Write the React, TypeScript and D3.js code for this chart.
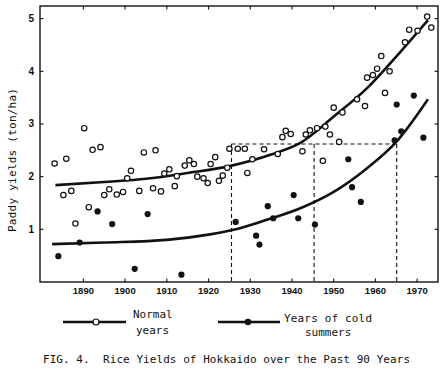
import React from "react";
import * as d3 from "d3";

const normalYears = [1883.1, 1885.9, 1885.2, 1887.1, 1888.1, 1890.2, 1891.3, 1892.2, 1894.1, 1895, 1896.2, 1898, 1899.5, 1900.5, 1901.4, 1903.4, 1904.5, 1906.7, 1907.3, 1908.6, 1909.4, 1910.6, 1912.4, 1911.9, 1914.3, 1915.4, 1916.5, 1917.3, 1918.8, 1919.8, 1920.5, 1921.6, 1922.5, 1923.4, 1924.5, 1925, 1927, 1928.7, 1930.5, 1929.3, 1933.3, 1936.6, 1937.7, 1938.5, 1939.7, 1942.5, 1943.3, 1944.3, 1946, 1947.4, 1948, 1949.1, 1950, 1951.3, 1952.1, 1955.6, 1957.5, 1958, 1959.4, 1960.4, 1961.4, 1962.3, 1963.4, 1967.1, 1968.1, 1970.1, 1972.4, 1973.4];
const normalYields = [2.25, 2.34, 1.65, 1.73, 1.11, 2.92, 1.42, 2.51, 2.56, 1.65, 1.76, 1.66, 1.71, 1.97, 2.11, 1.73, 2.46, 1.78, 2.5, 1.72, 2.06, 2.14, 2.01, 1.82, 2.21, 2.31, 2.24, 2.0, 1.97, 1.88, 2.24, 2.37, 1.92, 2.02, 2.17, 2.53, 2.53, 2.53, 2.33, 2.07, 2.52, 2.43, 2.75, 2.87, 2.81, 2.48, 2.8, 2.88, 2.92, 2.3, 2.95, 2.8, 3.31, 2.66, 3.22, 3.47, 3.34, 3.88, 3.93, 4.05, 4.29, 3.59, 4.0, 4.55, 4.79, 4.77, 5.04, 4.83];

const coldYears = [1884, 1889.1, 1893.4, 1896.9, 1902.3, 1905.4, 1913.5, 1926.5, 1931.4, 1932.2, 1934.2, 1935.5, 1940.4, 1941.5, 1945.5, 1953.5, 1954.4, 1956.5, 1964.6, 1965.1, 1966.2, 1969.2, 1971.5];
const coldYields = [0.49, 0.75, 1.34, 1.1, 0.25, 1.29, 0.14, 1.14, 0.88, 0.71, 1.44, 1.21, 1.65, 1.21, 1.09, 2.33, 1.8, 1.52, 2.69, 3.37, 2.86, 3.54, 2.74];

const normalCurveYears = [1883.3, 1895, 1905, 1915, 1925, 1935, 1942, 1950, 1958, 1966, 1972.6];
const normalCurveYields = [1.84, 1.9, 1.96, 2.07, 2.2, 2.42, 2.64, 3.14, 3.68, 4.37, 4.97];

const coldCurveYears = [1882.5, 1895, 1910, 1920, 1926, 1934, 1942, 1950, 1958, 1965, 1972.6];
const coldCurveYields = [0.72, 0.75, 0.8, 0.9, 0.99, 1.18, 1.4, 1.71, 2.16, 2.66, 3.47];

const guideYears = [1925.5, 1945.3, 1965.1];
const guideLevel = 2.62;

const xTicks = [1890, 1900, 1910, 1920, 1930, 1940, 1950, 1960, 1970];
const yTicks = [1, 2, 3, 4, 5];

const yTitle = "Paddy yields (ton/ha)";
const caption = "FIG. 4.  Rice Yields of Hokkaido over the Past 90 Years";

export default function App() {
  const W = 445, H = 373;
  const left = 40, right = 438, top = 6, bottom = 282;
  const x = d3.scaleLinear().domain([1879.6, 1975]).range([left, right]);
  const y = d3.scaleLinear().domain([0, 5.24]).range([bottom, top]);
  const line = d3
    .line<[number, number]>()
    .x((d) => x(d[0]))
    .y((d) => y(d[1]))
    .curve(d3.curveMonotoneX);
  const upper = line(normalCurveYears.map((t, i) => [t, normalCurveYields[i]]));
  const lower = line(coldCurveYears.map((t, i) => [t, coldCurveYields[i]]));
  const ink = "#111";
  const mono = "'DejaVu Sans Mono', 'Liberation Mono', monospace";
  const sans = "'Liberation Sans', Arial, sans-serif";
  const tl = 3.5;

  return (
    <svg width={W} height={H} style={{ position: "absolute", left: 0, top: 0, background: "#fff" }}>
      <rect x={0} y={0} width={W} height={H} fill="#fff" />
      {/* frame */}
      <rect x={left} y={top} width={right - left} height={bottom - top} fill="none" stroke={ink} strokeWidth={1.4} />
      {/* ticks */}
      {xTicks.map((t) => (
        <g key={"xt" + t}>
          <line x1={x(t)} x2={x(t)} y1={bottom} y2={bottom - tl} stroke={ink} strokeWidth={1.1} />
          <line x1={x(t)} x2={x(t)} y1={top} y2={top + tl} stroke={ink} strokeWidth={1.1} />
          <text x={x(t)} y={294} textAnchor="middle" fontFamily={sans} fontWeight="bold" fontSize={9.5} fill={ink}>
            {t}
          </text>
        </g>
      ))}
      {yTicks.map((v) => (
        <g key={"yt" + v}>
          <line x1={left} x2={left + tl} y1={y(v)} y2={y(v)} stroke={ink} strokeWidth={1.1} />
          <line x1={right} x2={right - tl} y1={y(v)} y2={y(v)} stroke={ink} strokeWidth={1.1} />
          <text x={34} y={y(v) + 3.5} textAnchor="end" fontFamily={sans} fontWeight="bold" fontSize={10} fill={ink}>
            {v}
          </text>
        </g>
      ))}
      {/* y title */}
      <text
        transform={`translate(16,160) rotate(-90)`}
        textAnchor="middle"
        fontFamily={mono}
        fontSize={11}
        fill={ink}
        textLength={144}
        lengthAdjust="spacing"
      >
        {yTitle}
      </text>
      {/* guide dashed lines */}
      <line
        x1={x(guideYears[0])}
        x2={x(guideYears[2])}
        y1={y(guideLevel)}
        y2={y(guideLevel)}
        stroke={ink}
        strokeWidth={1.1}
        strokeDasharray="4,3"
      />
      {guideYears.map((g) => (
        <line
          key={"g" + g}
          x1={x(g)}
          x2={x(g)}
          y1={y(guideLevel)}
          y2={bottom}
          stroke={ink}
          strokeWidth={1.1}
          strokeDasharray="4,3"
        />
      ))}
      {/* curves */}
      <path d={upper ?? ""} fill="none" stroke={ink} strokeWidth={2.6} />
      <path d={lower ?? ""} fill="none" stroke={ink} strokeWidth={2.6} />
      {/* points */}
      {normalYears.map((t, i) => (
        <circle key={"n" + i} cx={x(t)} cy={y(normalYields[i])} r={2.7} fill="#fff" stroke={ink} strokeWidth={1.2} />
      ))}
      {coldYears.map((t, i) => (
        <circle key={"c" + i} cx={x(t)} cy={y(coldYields[i])} r={3.1} fill={ink} />
      ))}
      {/* legend */}
      <line x1={63} x2={126} y1={322} y2={322} stroke={ink} strokeWidth={2.6} />
      <circle cx={96} cy={322} r={3} fill="#fff" stroke={ink} strokeWidth={1.2} />
      <text x={133} y={318} fontFamily={mono} fontSize={11} fill={ink}>Normal</text>
      <text x={136} y={334} fontFamily={mono} fontSize={11} fill={ink}>years</text>
      <line x1={218} x2={280} y1={322} y2={322} stroke={ink} strokeWidth={2.6} />
      <circle cx={248} cy={322} r={3.3} fill={ink} />
      <text x={284} y={322} fontFamily={mono} fontSize={11} fill={ink} textLength={88} lengthAdjust="spacing">Years of cold</text>
      <text x={305} y={336} fontFamily={mono} fontSize={11} fill={ink}>summers</text>
      {/* caption */}
      <text x={43} y={363} fontFamily={mono} fontSize={11} fill={ink} textLength={367} lengthAdjust="spacing" style={{ whiteSpace: "pre" }}>
        {caption}
      </text>
    </svg>
  );
}
